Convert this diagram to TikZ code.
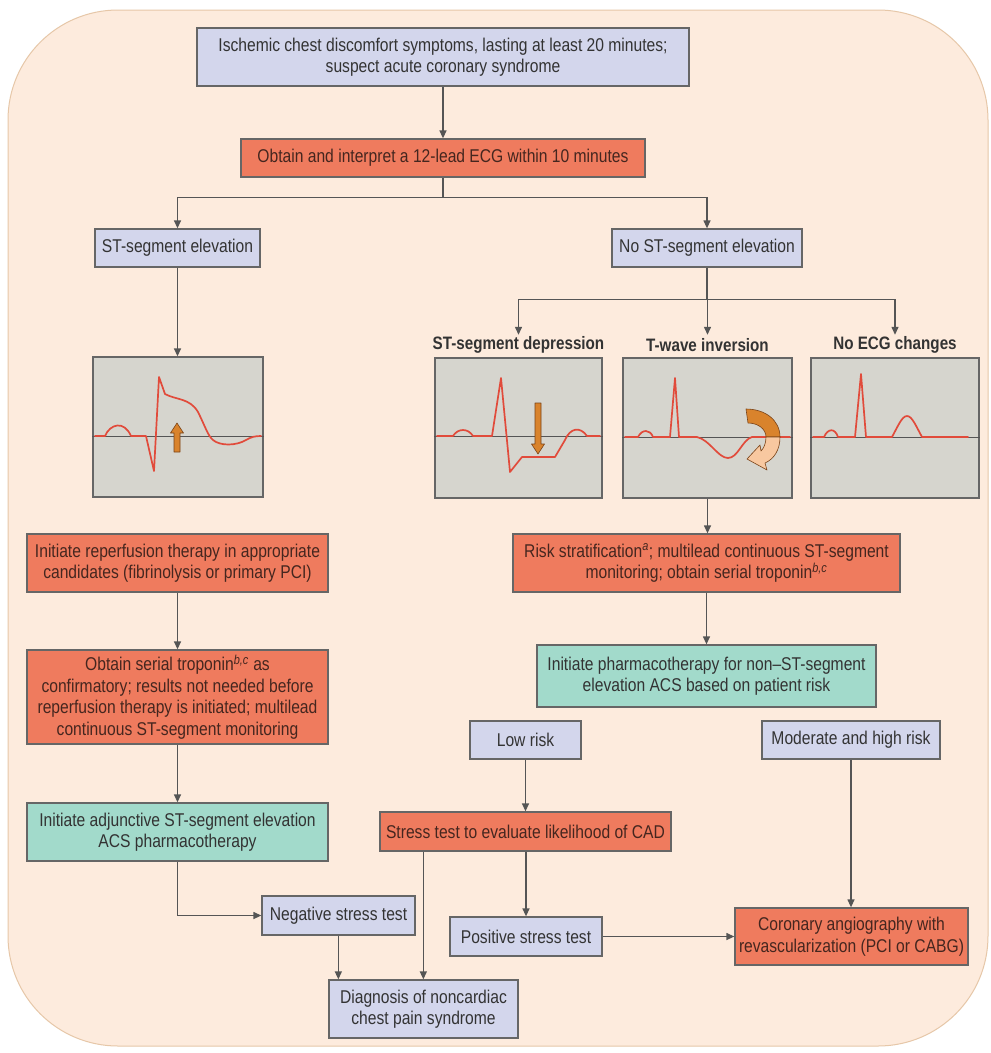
\documentclass[tikz,border=0pt]{standalone}
\usepackage{fontspec}
\setmainfont{Liberation Sans}[FakeStretch=0.845]
\usetikzlibrary{arrows.meta,calc}

\definecolor{bg}{HTML}{FDEBDD}
\definecolor{bgline}{HTML}{E6C7A8}
\definecolor{lav}{HTML}{D3D6EC}
\definecolor{sal}{HTML}{EF7B5E}
\definecolor{mint}{HTML}{A2DACB}
\definecolor{panelfill}{HTML}{D6D5CE}
\definecolor{edge}{HTML}{666666}
\definecolor{wirecol}{HTML}{555555}
\definecolor{tracecol}{HTML}{E14B3B}
\definecolor{ink}{HTML}{333333}
\definecolor{salink}{HTML}{45261F}
\definecolor{orng}{HTML}{D9832C}
\definecolor{peach}{HTML}{F8C8A0}
\definecolor{brn}{HTML}{7A4318}

\begin{document}
\begin{tikzpicture}[x=1pt,y=-1pt,
  box/.style={draw=edge, line width=1.3pt, inner sep=0pt, align=center, text=ink,
              font=\fontsize{18.5}{21.5}\selectfont},
  lavbox/.style={box, fill=lav},
  salbox/.style={box, fill=sal, text=salink},
  mintbox/.style={box, fill=mint},
  ecgpanel/.style={draw=edge, line width=1.3pt, fill=panelfill, inner sep=0pt,
                   minimum height=140pt},
  ecglabel/.style={font=\bfseries\fontsize{18}{20}\selectfont, text=ink, inner sep=0pt,
                   minimum height=20pt},
  wave/.style={draw=tracecol, line width=1.7pt, line join=round, line cap=round},
  isoline/.style={draw=wirecol, line width=1pt},
  conn/.style={draw=wirecol, line width=1.3pt},
  arr/.style={conn, -{Triangle[width=7pt,length=8pt]}},
  bigarrow/.style={fill=orng, draw=brn, line width=0.6pt, line join=round},
  lightarrow/.style={fill=peach, draw=brn, line width=0.6pt, line join=round}
]
% canvas and rounded backdrop
\path[use as bounding box] (0,0) rectangle (991,1053);
\fill[white] (0,0) rectangle (991,1053);
\draw[fill=bg, draw=bgline, line width=1pt, rounded corners=110pt] (8,10) rectangle (988,1046);

% ---- boxes ----
\node[lavbox, minimum width=492pt, minimum height=58pt] (top) at (443,57)
  {Ischemic chest discomfort symptoms, lasting at least 20 minutes;\\suspect acute coronary syndrome};
\node[salbox, minimum width=404pt, minimum height=38pt] (ecg) at (443,158)
  {Obtain and interpret a 12-lead ECG within 10 minutes};
\node[lavbox, minimum width=165pt, minimum height=38pt] (stel) at (177.5,248)
  {ST-segment elevation};
\node[lavbox, minimum width=190pt, minimum height=38pt] (nost) at (707,248)
  {No ST-segment elevation};

% ECG panels
\node[ecgpanel, minimum width=170pt] (p0) at (178,427) {};
\node[ecgpanel, minimum width=167pt] (p1) at (518.5,428) {};
\node[ecgpanel, minimum width=169pt] (p2) at (707.5,428) {};
\node[ecgpanel, minimum width=168pt] (p3) at (895,428) {};
\node[ecglabel] (l1) at (518.5,345) {ST-segment depression};
\node[ecglabel] (l2) at (707.5,345) {T-wave inversion};
\node[ecglabel] (l3) at (895,345) {No ECG changes};

% left column
\node[salbox, minimum width=301pt, minimum height=58pt] (reperf) at (177.5,563)
  {Initiate reperfusion therapy in appropriate\\candidates (fibrinolysis or primary PCI)};
\node[salbox, minimum width=301pt, minimum height=94pt] (trop) at (177.5,697)
  {Obtain serial troponin\textsuperscript{\itshape b,c} as\\confirmatory; results not needed before\\reperfusion therapy is initiated; multilead\\continuous ST-segment monitoring};
\node[mintbox, minimum width=301pt, minimum height=58pt] (adj) at (177.5,832)
  {Initiate adjunctive ST-segment elevation\\ACS pharmacotherapy};

% right column
\node[salbox, minimum width=387pt, minimum height=58pt] (risk) at (706.5,563)
  {Risk stratification\textsuperscript{\itshape a}; multilead continuous ST-segment\\monitoring; obtain serial troponin\textsuperscript{\itshape b,c}};
\node[mintbox, minimum width=339pt, minimum height=62pt] (pharm) at (706.5,676)
  {Initiate pharmacotherapy for non--ST-segment\\elevation ACS based on patient risk};
\node[lavbox, minimum width=111pt, minimum height=38pt] (low) at (525.5,740) {Low risk};
\node[lavbox, minimum width=178pt, minimum height=38pt] (mod) at (851,740) {Moderate and high risk};
\node[salbox, minimum width=291pt, minimum height=39pt] (stress) at (525.5,831.5)
  {Stress test to evaluate likelihood of CAD};
\node[lavbox, minimum width=153pt, minimum height=39pt] (neg) at (338.5,915.5) {Negative stress test};
\node[lavbox, minimum width=152pt, minimum height=39pt] (pos) at (526,936.5) {Positive stress test};
\node[salbox, minimum width=233pt, minimum height=57pt] (cor) at (851.5,936.5)
  {Coronary angiography with\\revascularization (PCI or CABG)};
\node[lavbox, minimum width=189pt, minimum height=58pt] (diag) at (423.5,1009)
  {Diagnosis of noncardiac\\chest pain syndrome};

% ---- ECG traces ----
% ST elevation
\draw[isoline] (p0.west |- 0,436) -- (p0.east |- 0,436);
\draw[wave] (95,436) -- (105,436) .. controls (110,424) and (124,420) .. (131,436) -- (146,436)
  -- (154,471) -- (159,377) -- (165,394) .. controls (176,400) and (190,398) .. (198,412)
  .. controls (205,426) and (208,436) .. (213,440) .. controls (220,446) and (236,446) .. (246,440)
  .. controls (251,437) and (255,436) .. (261,436);
\draw[bigarrow] (174,452) -- (174,433) -- (170.5,433) -- (177,423) -- (183.5,433) -- (180,433) -- (180,452) -- cycle;

% ST depression
\draw[isoline] (p1.west |- 0,436) -- (p1.east |- 0,436);
\draw[wave] (437,436) -- (453,436) .. controls (458,428) and (468,428) .. (473,436) -- (492,436)
  -- (501,378) -- (510,472) -- (522,457) -- (555,457) -- (565,440)
  .. controls (570,428) and (580,426) .. (587,436) -- (600,436);
\draw[bigarrow] (535,403) -- (535,444) -- (531.5,444) -- (538,454) -- (544.5,444) -- (541,444) -- (541,403) -- cycle;

% T-wave inversion
\draw[isoline] (p2.west |- 0,437) -- (p2.east |- 0,437);
\draw[wave] (625,437) -- (638,437) .. controls (642,429) and (650,429) .. (653,437) -- (670,437)
  -- (675,378) -- (679,437) -- (697,437) .. controls (710,440) and (718,458) .. (728,458)
  .. controls (738,458) and (742,440) .. (752,437) -- (790,437);
\draw[bigarrow] (746,409) .. controls (765,409) and (780,420) .. (780,437) -- (766,437)
  .. controls (766,429) and (758,423) .. (748,423) -- cycle;
\draw[lightarrow] (780,437) .. controls (780,450) and (774,459) .. (765,463) -- (767,470) -- (747,459)
  -- (760,445) -- (761,451) .. controls (764,448) and (766,443) .. (766,437) -- cycle;

% no ECG changes
\draw[isoline] (p3.west |- 0,437) -- (p3.east |- 0,437);
\draw[wave] (813,437) -- (824,437) .. controls (828,428) and (835,428) .. (838,437) -- (855,437)
  -- (861,374) -- (866,437) -- (892,437) .. controls (898,426) and (902,416) .. (907,416)
  .. controls (912,416) and (916,426) .. (922,437) -- (968,437);

% ---- connectors ----
\draw[arr] (top) -- (ecg);
\draw[conn] (ecg.south) -- ++(0,20) coordinate (split1);
\draw[arr] (split1) -| (stel.north);
\draw[arr] (split1) -| (nost.north);
\draw[arr] (stel) -- (stel.south |- p0.north);
\draw[conn] (nost.south) -- ++(0,32) coordinate (split2);
\draw[arr] (split2) -| (l1.north);
\draw[arr] (split2) -- (split2 -| l2.north) -- (l2.north);
\draw[arr] (split2) -| (l3.north);
\draw[arr] (p2.south) -- (p2.south |- risk.north);
\draw[arr] (risk) -- (risk.south |- pharm.north);
\draw[arr] (reperf) -- (trop);
\draw[arr] (trop) -- (adj);
\draw[arr] (adj.south) |- (neg.west);
\coordinate (d1) at ($(diag.north west)+(10,0)$);
\coordinate (d2) at ($(stress.south west)+(44,0)$);
\draw[arr] (d1 |- neg.south) -- (d1);
\draw[arr] (d2) -- (d2 |- diag.north);
\draw[arr] (low) -- (low.south |- stress.north);
\draw[arr] (stress.south -| pos.north) -- (pos.north);
\draw[arr] (pos) -- (cor);
\draw[arr] (mod.south) -- (mod.south |- cor.north);
\end{tikzpicture}
\end{document}
